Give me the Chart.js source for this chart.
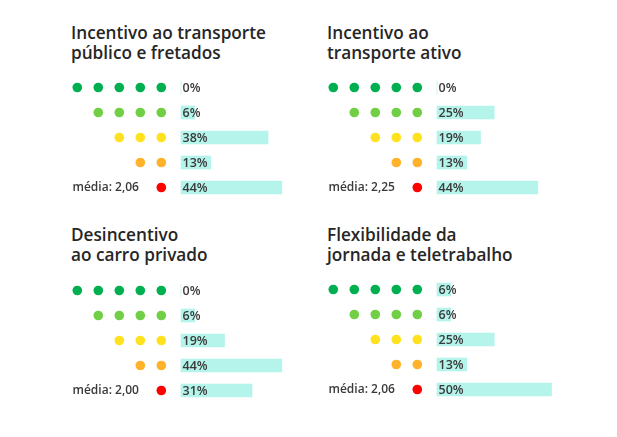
<!DOCTYPE html>
<html><head><meta charset="utf-8">
<script src="https://cdn.jsdelivr.net/npm/chart.js@4"></script>
<style>
body{margin:0;background:#fff;width:617px;height:437px;position:relative;overflow:hidden;font-family:'Open Sans',sans-serif}
.title{position:absolute;font-weight:600;font-size:17.2px;line-height:20px;color:#262626;white-space:nowrap}
.panel{position:absolute}
</style></head><body>
<div id="root"></div>
<script>
const titles = [
  ['Incentivo ao transporte', 'público e fretados'],
  ['Incentivo ao', 'transporte ativo'],
  ['Desincentivo', 'ao carro privado'],
  ['Flexibilidade da', 'jornada e teletrabalho']
];
const rowLabels = ['5', '4', '3', '2', '1'];
const dotCounts = [5, 4, 3, 2, 1];
const dotColors = ['#00b050', '#70cf45', '#ffe11f', '#ffb22a', '#ff0000'];
const pctPublico = [0, 6, 38, 13, 44];
const pctAtivo = [0, 25, 19, 13, 44];
const pctCarro = [0, 6, 19, 44, 31];
const pctFlex = [6, 6, 25, 13, 50];
const medias = ['2,06', '2,25', '2,00', '2,06'];

const series = [pctPublico, pctAtivo, pctCarro, pctFlex];
const layout = [
  {left: 60, top: 74.5, tTop: 23, tLeft: 71},
  {left: 316, top: 74.5, tTop: 23, tLeft: 327},
  {left: 60, top: 278, tTop: 224.5, tLeft: 71},
  {left: 316, top: 277, tTop: 224.5, tLeft: 327}
];
const W = 240, H = 125;
const PX = 2.29;          // px per percent
const BAR0 = 121;         // bar origin offset from left
const DOT1 = 17.3, DOTSTEP = 21;

const root = document.getElementById('root');

series.forEach((vals, p) => {
  const L = layout[p];
  const t = document.createElement('div');
  t.className = 'title';
  t.style.left = L.tLeft + 'px';
  t.style.top = L.tTop + 'px';
  t.innerHTML = titles[p].join('<br>');
  root.appendChild(t);

  const wrap = document.createElement('div');
  wrap.className = 'panel';
  wrap.style.left = L.left + 'px';
  wrap.style.top = L.top + 'px';
  const cv = document.createElement('canvas');
  cv.width = W; cv.height = H;
  cv.style.width = W + 'px'; cv.style.height = H + 'px';
  wrap.appendChild(cv);
  root.appendChild(wrap);

  const dots = [], dotCols = [];
  dotCounts.forEach((n, i) => {
    for (let k = 5 - n + 1; k <= 5; k++) { dots.push({x: k, y: rowLabels[i]}); dotCols.push(dotColors[i]); }
  });

  const labelPlugin = {
    id: 'lbl' + p,
    afterDatasetsDraw(chart) {
      const ctx = chart.ctx, xs = chart.scales.x, ys = chart.scales.y;
      ctx.save();
      ctx.fillStyle = '#3a3a3a';
      ctx.textBaseline = 'middle';
      ctx.textAlign = 'left';
      ctx.font = '600 12.5px "Open Sans"';
      vals.forEach((v, i) => {
        ctx.fillText(v + '%', xs.getPixelForValue(0) + 1.5, ys.getPixelForValue(i) + 0.5);
      });
      ctx.font = '600 12px "Open Sans"';
      ctx.fillText('média: ' + medias[p], chart.chartArea.left + 12.5, ys.getPixelForValue(4) + 0.5);
      ctx.restore();
    }
  };

  new Chart(cv, {
    type: 'bar',
    data: {
      labels: rowLabels,
      datasets: [
        {type: 'bar', indexAxis: 'y', data: vals, xAxisID: 'x', yAxisID: 'y', backgroundColor: '#b4f4ea', barThickness: 13, borderWidth: 0},
        {type: 'scatter', data: dots, xAxisID: 'xd', yAxisID: 'y', pointBackgroundColor: dotCols, pointBorderWidth: 0, pointRadius: 4.8, pointHoverRadius: 4.8, clip: false}
      ]
    },
    options: {
      indexAxis: 'y',
      responsive: false,
      animation: false,
      events: [],
      layout: {padding: 0, autoPadding: false},
      plugins: {legend: {display: false}, tooltip: {enabled: false}, title: {display: false}},
      scales: {
        x: {type: 'linear', axis: 'x', display: false, min: -BAR0 / PX, max: (W - BAR0) / PX},
        xd: {type: 'linear', axis: 'x', display: false, min: 1 - DOT1 / DOTSTEP, max: 1 - DOT1 / DOTSTEP + W / DOTSTEP},
        y: {type: 'category', axis: 'y', display: false, offset: true}
      }
    },
    plugins: [labelPlugin]
  });
});
</script>
</body></html>
